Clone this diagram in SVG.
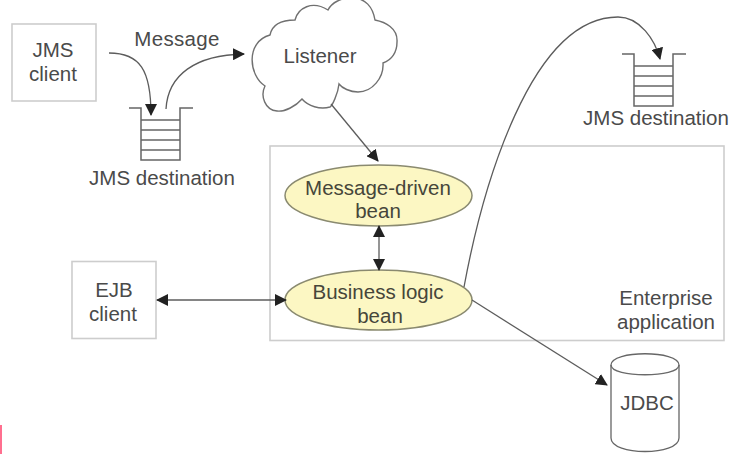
<svg xmlns="http://www.w3.org/2000/svg" width="738" height="454" viewBox="0 0 738 454">
<style>
text{font-family:"Liberation Sans",Arial,sans-serif;font-size:20.5px;fill:#4a4a4a;text-anchor:middle}
.in{fill:#46463a}
.box{fill:#fff;stroke:#cdcdcd;stroke-width:1.6}
.ell{fill:#fcf7c3;stroke:#8a8a70;stroke-width:1.5}
.ln{fill:none;stroke:#5c5c5c;stroke-width:1.3}
.q{fill:none;stroke:#666;stroke-width:1.5}
.c{fill:none;stroke:#6a6a6a;stroke-width:1.4}
</style>
<defs>
<marker id="a" viewBox="0 0 12 12" refX="11" refY="6" markerWidth="12" markerHeight="12" markerUnits="userSpaceOnUse" orient="auto-start-reverse"><path d="M0 0L12 6L0 12Z" fill="#222"/></marker>
<g id="queue"><path class="q" d="M129 108H141V160H180V108H193M141 120H180M141 130H180M141 140H180M141 150H180"/></g>
</defs>
<rect width="738" height="454" fill="#fff"/>
<rect x="0" y="425" width="2" height="29" fill="#ff6f8f"/>
<g id="enterprise"><rect class="box" x="270" y="146" width="454" height="194.500"/><text x="666" y="305">Enterprise</text><text x="666" y="329">application</text></g>
<g id="jms-client"><rect class="box" x="12" y="24" width="84" height="77"/><text x="53" y="57">JMS</text><text x="53" y="81">client</text></g>
<g id="ejb-client"><rect class="box" x="72" y="261.500" width="84" height="77"/><text x="114" y="297">EJB</text><text x="113" y="321">client</text></g>
<g id="listener"><path d="M265 86C249 76 245 42 270 35C272 25 280 20 295 20C298 8 312 0 328 10C332 2 342 -2 350 -2C366 -3 373 8 375 20C385 22 398 28 397 42C397 52 392 60 383 63C384 78 372 92 358 92C350 92 342 88 339 84C338 94 332 106 330 107C320 110 308 106 302 99C296 106 285 112 277 111C265 110 260 96 265 86Z" fill="#fff" stroke="#707070" stroke-width="1.4"/><text x="320" y="63">Listener</text></g>
<g id="destination-1"><use href="#queue"/><text x="162" y="185">JMS destination</text></g>
<g id="destination-2"><use href="#queue" x="493" y="-54"/><text x="656" y="125">JMS destination</text></g>
<g id="message-bean"><ellipse class="ell" cx="378.500" cy="195.500" rx="93.500" ry="30.500"/><text class="in" x="378" y="195">Message-driven</text><text class="in" x="378" y="218">bean</text></g>
<g id="business-bean"><ellipse class="ell" cx="378.500" cy="300" rx="93.500" ry="30"/><text class="in" x="378" y="299">Business logic</text><text class="in" x="380" y="323">bean</text></g>
<g id="jdbc"><path d="M611 365C611 350 679 350 679 365V438C679 456 611 456 611 438Z" fill="#fff" stroke="#666" stroke-width="1.3"/><path class="c" d="M611 365C611 378 679 378 679 365"/><text x="647" y="410">JDBC</text></g>
<text x="177" y="46" style="letter-spacing:.3px">Message</text>
<g id="connectors">
<path class="ln" marker-end="url(#a)" d="M109 53C140 53 151 70 151 115"/>
<path class="ln" marker-end="url(#a)" d="M166 109C168 75 195 55 244 54"/>
<path class="ln" marker-end="url(#a)" d="M331 104L378 161"/>
<path class="ln" marker-start="url(#a)" marker-end="url(#a)" d="M379 226V270"/>
<path class="ln" marker-start="url(#a)" marker-end="url(#a)" d="M157 300H286"/>
<path class="ln" marker-end="url(#a)" d="M464 287C482 190 530 17 618 17C640 17 655 40 660 59"/>
<path class="ln" marker-end="url(#a)" d="M472 300L607 385"/>
</g>
</svg>
